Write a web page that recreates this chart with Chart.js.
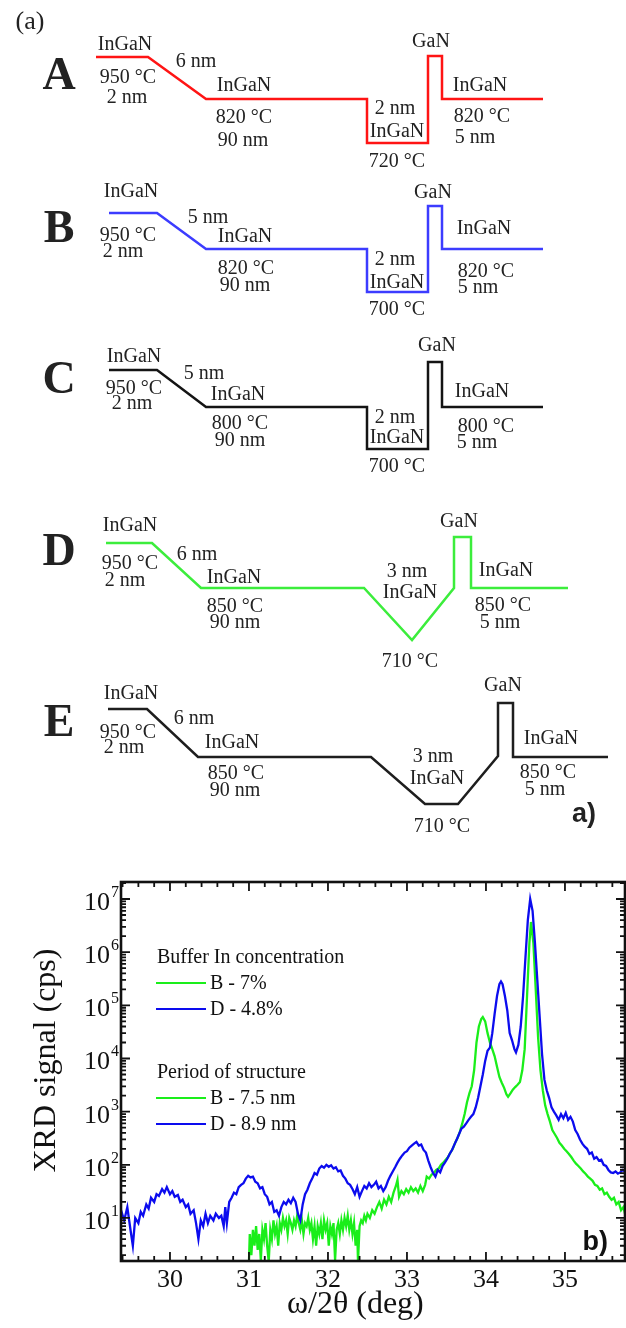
<!DOCTYPE html>
<html>
<head>
<meta charset="utf-8">
<script src="https://cdn.jsdelivr.net/npm/chart.js@4.4.0/dist/chart.umd.min.js"></script>
<style>
    html, body { margin: 0; padding: 0; background: #fff; }
    #wrap { position: relative; width: 626px; height: 1328px; }
    canvas { position: absolute; left: 0; }
    #sketch { top: 0; }
    #xrd { top: 850px; }
</style>
</head>
<body>
<div id="wrap">
    <canvas id="sketch" width="626" height="850"></canvas>
    <canvas id="xrd" width="626" height="478"></canvas>
</div>
<script>
// ---------- (a) growth temperature profiles (diagram units) ----------
const sampleNames = ['A', 'B', 'C', 'D', 'E'];
const sampleColors = ['#ff1414', '#3c3cff', '#141414', '#3ced3c', '#1e1e1e'];

const profileA = [[96, 57], [148, 57], [206, 99], [367, 99], [367, 143], [428, 143], [428, 56], [442, 56], [442, 99], [543, 99]];
const profileB = [[109, 213], [157, 213], [206, 249], [367, 249], [367, 292], [428, 292], [428, 206], [442, 206], [442, 249], [543, 249]];
const profileC = [[109, 370], [157, 370], [206, 407], [367, 407], [367, 449], [428, 449], [428, 362], [442, 362], [442, 407], [543, 407]];
const profileD = [[106, 543], [152, 543], [201, 588], [364, 588], [412, 640], [454, 588], [454, 537], [471, 537], [471, 588], [568, 588]];
const profileE = [[108, 709], [147, 709], [198, 757], [371, 757], [425, 804], [458, 804], [498, 756], [498, 703], [513, 703], [513, 757], [608, 757]];
const profiles = [profileA, profileB, profileC, profileD, profileE];

// text notes: [text, centre x, baseline y]
const notesA = [['InGaN', 125, 50], ['950 °C', 128, 83], ['2 nm', 127, 103], ['6 nm', 196, 67],
    ['InGaN', 244, 91], ['820 °C', 244, 123], ['90 nm', 243, 146], ['GaN', 431, 47],
    ['2 nm', 395, 114], ['InGaN', 397, 137], ['720 °C', 397, 167],
    ['InGaN', 480, 91], ['820 °C', 482, 122], ['5 nm', 475, 143]];
const notesB = [['InGaN', 131, 197], ['950 °C', 128, 241], ['2 nm', 123, 257], ['5 nm', 208, 223],
    ['InGaN', 245, 242], ['820 °C', 246, 274], ['90 nm', 245, 291], ['GaN', 433, 198],
    ['2 nm', 395, 265], ['InGaN', 397, 288], ['700 °C', 397, 315],
    ['InGaN', 484, 234], ['820 °C', 486, 277], ['5 nm', 478, 293]];
const notesC = [['InGaN', 134, 362], ['950 °C', 134, 394], ['2 nm', 132, 409], ['5 nm', 204, 379],
    ['InGaN', 238, 400], ['800 °C', 240, 429], ['90 nm', 240, 446], ['GaN', 437, 351],
    ['2 nm', 395, 423], ['InGaN', 397, 443], ['700 °C', 397, 472],
    ['InGaN', 482, 397], ['800 °C', 486, 432], ['5 nm', 477, 448]];
const notesD = [['InGaN', 130, 531], ['950 °C', 130, 569], ['2 nm', 125, 586], ['6 nm', 197, 560],
    ['InGaN', 234, 583], ['850 °C', 235, 612], ['90 nm', 235, 628], ['GaN', 459, 527],
    ['3 nm', 407, 577], ['InGaN', 410, 598], ['710 °C', 410, 667],
    ['InGaN', 506, 576], ['850 °C', 503, 611], ['5 nm', 500, 628]];
const notesE = [['InGaN', 131, 699], ['950 °C', 128, 738], ['2 nm', 124, 753], ['6 nm', 194, 724],
    ['InGaN', 232, 748], ['850 °C', 236, 779], ['90 nm', 235, 796], ['GaN', 503, 691],
    ['3 nm', 433, 762], ['InGaN', 437, 784], ['710 °C', 442, 832],
    ['InGaN', 551, 744], ['850 °C', 548, 778], ['5 nm', 545, 795]];
const sampleNotes = [notesA, notesB, notesC, notesD, notesE];
const letterBaselines = [89, 242, 393, 565, 736];

// ---------- (b) XRD omega/2theta scans: [deg, cps] ----------
const xrdD = [
    [29.38, 14], [29.42, 9], [29.46, 16], [29.50, 6], [29.53, 3], [29.56, 10], [29.60, 8], [29.63, 13],
    [29.66, 11], [29.70, 18], [29.73, 15], [29.76, 24], [29.80, 20], [29.83, 28], [29.86, 26], [29.90, 35],
    [29.93, 30], [29.96, 38], [30.00, 28], [30.03, 32], [30.06, 25], [30.10, 27], [30.13, 20], [30.16, 22],
    [30.20, 16], [30.23, 18], [30.26, 12], [30.30, 14], [30.33, 8], [30.36, 4], [30.39, 9], [30.42, 7],
    [30.45, 12], [30.48, 8], [30.51, 11], [30.55, 9], [30.58, 12], [30.62, 10], [30.65, 11], [30.68, 7],
    [30.70, 16], [30.72, 8], [30.75, 20], [30.78, 24], [30.81, 30], [30.84, 28], [30.87, 38], [30.90, 42],
    [30.93, 45], [30.96, 55], [30.99, 62], [31.02, 58], [31.05, 60], [31.08, 48], [31.11, 45], [31.14, 36],
    [31.17, 38], [31.20, 28], [31.23, 25], [31.26, 18], [31.29, 20], [31.32, 13], [31.35, 14], [31.38, 11],
    [31.41, 16], [31.44, 20], [31.47, 18], [31.50, 22], [31.53, 19], [31.56, 24], [31.59, 20], [31.62, 12],
    [31.65, 9], [31.68, 18], [31.71, 28], [31.74, 34], [31.77, 45], [31.80, 55], [31.83, 70], [31.86, 65],
    [31.89, 85], [31.92, 95], [31.95, 88], [31.98, 100], [32.01, 92], [32.04, 98], [32.07, 85], [32.10, 90],
    [32.13, 75], [32.16, 78], [32.19, 62], [32.22, 55], [32.25, 45], [32.28, 42], [32.31, 35], [32.34, 28],
    [32.37, 38], [32.40, 25], [32.43, 32], [32.46, 40], [32.49, 36], [32.52, 45], [32.55, 38], [32.58, 42],
    [32.61, 48], [32.64, 36], [32.67, 40], [32.70, 32], [32.73, 38], [32.76, 50], [32.79, 62], [32.82, 75],
    [32.85, 90], [32.88, 110], [32.91, 130], [32.94, 150], [32.97, 170], [33.00, 180], [33.03, 210], [33.06, 230],
    [33.09, 250], [33.12, 270], [33.15, 230], [33.18, 240], [33.21, 190], [33.24, 170], [33.27, 120], [33.30, 90],
    [33.33, 70], [33.36, 60], [33.39, 80], [33.42, 72], [33.45, 95], [33.48, 110], [33.51, 130], [33.54, 160],
    [33.57, 190], [33.60, 240], [33.63, 300], [33.66, 380], [33.69, 480], [33.72, 520], [33.75, 600], [33.78, 700],
    [33.81, 800], [33.84, 900], [33.87, 1200], [33.90, 1800], [33.93, 3000], [33.96, 5000], [33.99, 9000], [34.02, 14000],
    [34.05, 16000], [34.08, 30000], [34.11, 70000], [34.14, 150000], [34.17, 250000], [34.19, 280000], [34.21, 250000], [34.24, 150000],
    [34.27, 80000], [34.30, 30000], [34.33, 22000], [34.36, 15000], [34.38, 13000], [34.41, 18000], [34.44, 40000], [34.47, 150000],
    [34.50, 800000], [34.53, 4000000], [34.56, 10000000], [34.59, 6000000], [34.62, 1500000], [34.65, 300000], [34.68, 60000], [34.71, 12000],
    [34.74, 4000], [34.77, 2500], [34.80, 1800], [34.83, 1200], [34.86, 1000], [34.89, 850], [34.92, 700], [34.95, 900],
    [34.98, 750], [35.01, 950], [35.04, 700], [35.07, 800], [35.10, 650], [35.13, 450], [35.16, 380], [35.19, 300],
    [35.22, 250], [35.25, 220], [35.28, 200], [35.31, 160], [35.34, 170], [35.37, 130], [35.40, 140], [35.43, 120],
    [35.46, 125], [35.49, 100], [35.52, 95], [35.55, 80], [35.58, 72], [35.61, 70], [35.64, 75], [35.67, 68],
    [35.70, 72], [35.73, 80], [35.76, 75]
];
const xrdB = [
    [31.00, 1.5], [31.01, 5], [31.03, 2], [31.05, 6], [31.07, 3], [31.09, 7], [31.11, 2.5], [31.13, 5],
    [31.15, 1.6], [31.17, 6], [31.19, 4], [31.21, 8], [31.23, 3], [31.25, 1.5], [31.27, 6], [31.29, 4],
    [31.31, 9], [31.33, 5], [31.35, 7], [31.37, 3], [31.39, 8], [31.41, 6], [31.43, 10], [31.45, 7],
    [31.47, 9], [31.49, 5], [31.51, 10], [31.53, 8], [31.55, 6], [31.57, 9], [31.59, 7], [31.61, 11],
    [31.63, 8], [31.65, 6], [31.67, 9], [31.69, 5], [31.71, 8], [31.73, 7], [31.75, 10], [31.77, 6],
    [31.79, 8], [31.81, 4], [31.83, 7], [31.85, 3], [31.87, 7], [31.89, 5], [31.91, 8], [31.93, 4],
    [31.95, 9], [31.97, 6], [31.99, 8], [32.01, 3], [32.03, 7], [32.05, 5], [32.07, 8], [32.09, 1.6],
    [32.11, 6], [32.13, 8], [32.15, 5], [32.17, 9], [32.19, 6], [32.21, 10], [32.23, 7], [32.25, 11],
    [32.27, 6], [32.29, 9], [32.31, 5], [32.33, 8], [32.35, 3], [32.37, 6], [32.38, 1.5], [32.40, 7],
    [32.42, 9], [32.44, 8], [32.46, 11], [32.48, 9], [32.50, 12], [32.53, 10], [32.56, 14], [32.59, 12],
    [32.62, 16], [32.65, 20], [32.68, 15], [32.71, 22], [32.74, 18], [32.77, 25], [32.80, 20], [32.83, 30],
    [32.86, 40], [32.88, 52], [32.90, 25], [32.93, 32], [32.96, 28], [32.99, 35], [33.02, 30], [33.05, 38],
    [33.08, 32], [33.11, 36], [33.14, 30], [33.17, 40], [33.20, 32], [33.23, 42], [33.25, 60], [33.28, 55],
    [33.31, 65], [33.34, 70], [33.37, 80], [33.40, 85], [33.43, 100], [33.46, 110], [33.49, 125], [33.52, 140],
    [33.55, 170], [33.58, 200], [33.61, 260], [33.64, 320], [33.67, 420], [33.70, 600], [33.73, 900], [33.76, 1500],
    [33.79, 2200], [33.82, 3000], [33.85, 6000], [33.88, 20000], [33.91, 40000], [33.94, 55000], [33.96, 60000], [33.99, 50000],
    [34.02, 30000], [34.05, 20000], [34.08, 15000], [34.11, 11000], [34.14, 7000], [34.17, 4500], [34.20, 3500], [34.23, 2800],
    [34.26, 2100], [34.28, 1900], [34.31, 2200], [34.34, 2600], [34.37, 2900], [34.40, 3200], [34.43, 3600], [34.46, 6000],
    [34.49, 15000], [34.52, 150000], [34.55, 1500000], [34.57, 3700000], [34.60, 1500000], [34.63, 200000], [34.66, 25000], [34.69, 6000],
    [34.72, 2500], [34.75, 1300], [34.78, 900], [34.81, 650], [34.84, 450], [34.87, 380], [34.90, 320], [34.93, 260],
    [34.96, 230], [34.99, 200], [35.02, 180], [35.05, 160], [35.08, 140], [35.11, 120], [35.14, 105], [35.17, 95],
    [35.20, 85], [35.23, 75], [35.26, 68], [35.29, 60], [35.32, 55], [35.35, 50], [35.38, 42], [35.41, 40],
    [35.44, 34], [35.47, 36], [35.50, 28], [35.53, 30], [35.56, 25], [35.59, 22], [35.62, 24], [35.65, 18],
    [35.68, 20], [35.71, 14], [35.74, 16], [35.76, 12]
];
const xTickLabels = [30, 31, 32, 33, 34, 35];
const yDecades = [1, 2, 3, 4, 5, 6, 7];
const legendHeads = ['Buffer In concentration', 'Period of structure'];
const legendBuffer = ['B - 7%', 'D - 4.8%'];
const legendPeriod = ['B - 7.5 nm', 'D - 8.9 nm'];
const xrdColors = {B: '#1aee1a', D: '#0c0cee'};

const SERIF = '"Liberation Serif", "Times New Roman", serif';
const SANS = '"Liberation Sans", Arial, sans-serif';

// ---------- chart (a) ----------
const sketchText = {
    id: 'sketchText',
    afterDatasetsDraw(chart) {
        const {ctx, scales: {x, y}} = chart;
        ctx.save();
        ctx.fillStyle = '#222';
        ctx.textAlign = 'center';
        ctx.textBaseline = 'alphabetic';
        ctx.font = '20px ' + SERIF;
        sampleNotes.forEach(list => list.forEach(([t, px, py]) => {
            ctx.fillText(t, x.getPixelForValue(px), y.getPixelForValue(py));
        }));
        ctx.font = 'bold 46px ' + SERIF;
        sampleNames.forEach((n, i) => ctx.fillText(n, x.getPixelForValue(59), y.getPixelForValue(letterBaselines[i])));
        ctx.font = '26px ' + SERIF;
        ctx.fillText('(a)', x.getPixelForValue(30), y.getPixelForValue(29));
        ctx.font = 'bold 27px ' + SANS;
        ctx.fillText('a)', x.getPixelForValue(584), y.getPixelForValue(822));
        ctx.restore();
    }
};

new Chart(document.getElementById('sketch'), {
    type: 'line',
    data: {
        datasets: profiles.map((p, i) => ({
            label: sampleNames[i],
            data: p.map(([px, py]) => ({x: px, y: py})),
            borderColor: sampleColors[i],
            borderWidth: 2.5,
            pointRadius: 0,
            tension: 0,
            borderJoinStyle: 'miter',
            clip: false
        }))
    },
    options: {
        responsive: false,
        animation: false,
        layout: {padding: 0},
        plugins: {legend: {display: false}, tooltip: {enabled: false}},
        scales: {
            x: {type: 'linear', min: 0, max: 626, display: false},
            y: {type: 'linear', min: 0, max: 850, reverse: true, display: false}
        }
    },
    plugins: [sketchText]
});

// ---------- chart (b) ----------
const xrdFrame = {
    id: 'xrdFrame',
    afterDraw(chart) {
        const {ctx, chartArea: a, scales: {x, y}} = chart;
        ctx.save();
        ctx.strokeStyle = '#111';
        ctx.fillStyle = '#111';

        // inward ticks, x every 0.2 deg
        ctx.lineWidth = 1.8;
        ctx.beginPath();
        for (let i = 147; i <= 178; i++) {
            const px = x.getPixelForValue(i / 5);
            const len = i % 5 === 0 ? 9 : 5;
            ctx.moveTo(px, a.bottom); ctx.lineTo(px, a.bottom - len);
            ctx.moveTo(px, a.top); ctx.lineTo(px, a.top + len);
        }
        // log ticks on y
        for (let e = 0; e <= 7; e++) {
            for (let m = 1; m <= 9; m++) {
                const v = m * Math.pow(10, e);
                if (v < y.min || v > y.max) continue;
                const py = y.getPixelForValue(v);
                const len = m === 1 ? 9 : 5;
                ctx.moveTo(a.left, py); ctx.lineTo(a.left + len, py);
                ctx.moveTo(a.right, py); ctx.lineTo(a.right - len, py);
            }
        }
        ctx.stroke();

        ctx.lineWidth = 2.6;
        ctx.strokeRect(a.left, a.top, a.width, a.height);

        // tick labels
        ctx.font = '26px ' + SERIF;
        ctx.textAlign = 'center';
        ctx.textBaseline = 'alphabetic';
        xTickLabels.forEach(v => ctx.fillText(String(v), x.getPixelForValue(v), a.bottom + 26));
        yDecades.forEach(e => {
            const py = y.getPixelForValue(Math.pow(10, e));
            ctx.font = '26px ' + SERIF;
            ctx.textAlign = 'right';
            ctx.fillText('10', a.left - 11, py + 11);
            ctx.font = '16px ' + SERIF;
            ctx.textAlign = 'left';
            ctx.fillText(String(e), a.left - 10, py - 2);
        });

        // axis titles
        ctx.font = '32px ' + SERIF;
        ctx.textAlign = 'center';
        ctx.fillText('ω/2θ (deg)', a.left + 0.465 * a.width, a.bottom + 52);
        ctx.save();
        ctx.translate(a.left - 74, (a.top + a.bottom) / 2 - 11);
        ctx.rotate(-Math.PI / 2);
        ctx.textBaseline = 'middle';
        ctx.fillText('XRD signal (cps)', 0, 0);
        ctx.restore();

        // legend blocks
        const lx = a.left + 36;
        const blocks = [[legendHeads[0], legendBuffer, a.top + 81], [legendHeads[1], legendPeriod, a.top + 196]];
        ctx.textAlign = 'left';
        blocks.forEach(([head, items, base]) => {
            ctx.font = '20px ' + SERIF;
            ctx.fillStyle = '#111';
            ctx.fillText(head, lx, base);
            items.forEach((t, k) => {
                const ly = base + 20 + k * 26;
                ctx.strokeStyle = k === 0 ? xrdColors.B : xrdColors.D;
                ctx.lineWidth = 2;
                ctx.beginPath();
                ctx.moveTo(lx - 1, ly); ctx.lineTo(lx + 49, ly);
                ctx.stroke();
                ctx.fillText(t, lx + 53, ly + 6);
            });
        });

        ctx.font = 'bold 27px ' + SANS;
        ctx.textAlign = 'right';
        ctx.fillText('b)', a.right - 17, a.bottom - 11);
        ctx.restore();
    }
};

new Chart(document.getElementById('xrd'), {
    type: 'line',
    data: {
        datasets: [
            {label: 'D', data: xrdD.map(([d, c]) => ({x: d, y: c})), borderColor: xrdColors.D,
                borderWidth: 2.3, pointRadius: 0, tension: 0},
            {label: 'B', data: xrdB.map(([d, c]) => ({x: d, y: c})), borderColor: xrdColors.B,
                borderWidth: 2.3, pointRadius: 0, tension: 0}
        ]
    },
    options: {
        responsive: false,
        animation: false,
        layout: {padding: {left: 121, right: 1, top: 32, bottom: 67}},
        plugins: {legend: {display: false}, tooltip: {enabled: false}},
        scales: {
            x: {type: 'linear', min: 29.38, max: 35.76, display: false},
            y: {type: 'logarithmic', min: 1.55, max: 2.09e7, display: false}
        }
    },
    plugins: [xrdFrame]
});
</script>
</body>
</html>
